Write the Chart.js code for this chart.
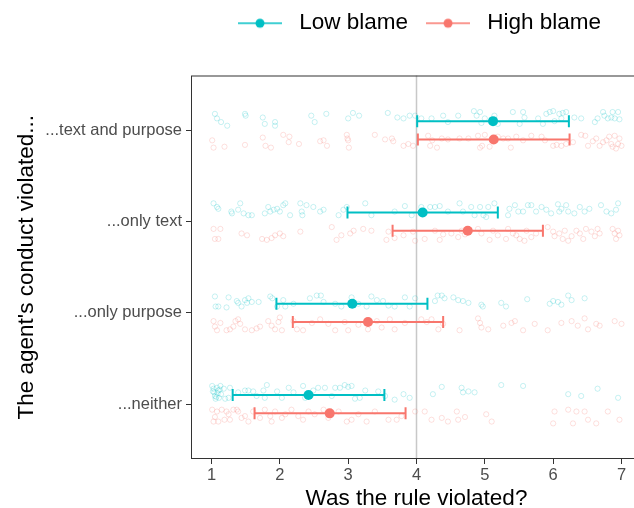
<!DOCTYPE html>
<html>
<head>
<meta charset="utf-8">
<script src="https://cdn.jsdelivr.net/npm/chart.js@4.4.1/dist/chart.umd.min.js"></script>
<style>
  html, body { margin: 0; padding: 0; overflow: hidden; background: #fff; }
  canvas { display: block; }
</style>
</head>
<body>
<canvas id="chart" width="650" height="512"></canvas>
<script>
// categories bottom to top (y value 1..4)
const categories = ['...neither', '...only purpose', '...only text', '...text and purpose'];
const groups = ['Low blame', 'High blame'];
const xTicks = [1, 2, 3, 4, 5, 6, 7];
const refLine = 4;

// group means and interval ends, per category
const lowMean = [2.42, 3.06, 4.09, 5.12];
const lowLo = [1.31, 1.95, 2.99, 4.01];
const lowHi = [3.53, 4.16, 5.19, 6.23];
const highMean = [2.73, 3.29, 4.75, 5.13];
const highLo = [1.63, 2.19, 3.65, 4.02];
const highHi = [3.84, 4.39, 5.85, 6.24];

// raw responses: [rating, vertical jitter]
const lowNeither = [[1.01,.10],[1.02,.04],[1.03,.07],[1.04,.03],[1.05,-.01],[1.06,-.04],[1.07,-.02],[1.08,.08],[1.09,.02],[1.10,.05],[1.11,-.03],[1.12,.06],[1.13,.10],[1.14,.01],[1.18,.07],[1.20,-.04],[1.25,-.03],[1.27,.08],[1.39,.03],[1.49,.05],[1.54,.05],[1.61,.04],[1.66,-.01],[1.76,.05],[1.78,-.03],[1.81,.11],[1.96,.04],[2.03,-.03],[2.13,.08],[2.20,.03],[2.34,.10],[2.37,-.03],[2.49,.05],[2.56,.08],[2.66,.08],[2.76,-.01],[2.81,.08],[2.88,.08],[2.95,.11],[3.00,.09],[3.05,.10],[3.10,-.04],[3.17,-.03],[3.25,.05],[3.44,.04],[3.54,-.01],[3.68,-.05],[3.81,.01],[3.90,-.03],[4.24,.01],[4.37,.09],[4.66,.08],[4.68,.03],[4.76,.04],[4.85,.03],[5.24,.11],[5.56,.10],[6.22,.01],[6.41,-.01],[6.65,.07],[6.95,-.03]];
const lowPurpose = [[1.05,.08],[1.06,-.03],[1.10,-.03],[1.22,-.04],[1.25,.07],[1.37,.03],[1.39,.01],[1.44,-.03],[1.49,.04],[1.52,.01],[1.54,.06],[1.59,.02],[1.69,.02],[1.86,.08],[1.89,.06],[1.96,-.03],[2.05,.04],[2.08,-.03],[2.20,0],[2.44,.06],[2.54,.09],[2.60,.09],[2.64,.02],[2.81,0],[2.90,-.03],[3.05,.07],[3.15,0],[3.27,-.03],[3.34,.08],[3.42,.04],[3.51,.03],[3.59,-.02],[3.68,-.03],[3.83,.07],[3.90,-.03],[3.98,.06],[4.27,.03],[4.31,.09],[4.37,.09],[4.41,.06],[4.54,.07],[4.61,.04],[4.68,.03],[4.76,.01],[4.95,-.01],[4.97,-.03],[5.24,.01],[5.31,-.03],[5.62,.05],[5.95,0],[6.00,.03],[6.07,.02],[6.12,-.01],[6.22,.09],[6.27,.04],[6.46,.06]];
const lowText = [[1.03,.10],[1.08,.06],[1.10,.04],[1.29,.01],[1.30,-.01],[1.39,.03],[1.42,.10],[1.47,-.01],[1.54,-.03],[1.59,-.03],[1.78,-.01],[1.83,.06],[1.86,.01],[1.91,.03],[1.96,.04],[2.00,.01],[2.05,.08],[2.08,.10],[2.15,-.03],[2.30,.10],[2.32,.01],[2.33,-.03],[2.39,.08],[2.49,.06],[2.59,.01],[2.64,.03],[2.86,-.03],[2.93,.03],[2.98,.06],[3.25,.10],[3.34,-.03],[3.68,.01],[3.83,.07],[3.93,-.03],[4.07,.06],[4.20,.06],[4.27,.06],[4.34,.07],[4.46,.01],[4.63,.10],[4.68,.01],[4.80,.06],[4.85,-.03],[4.93,.06],[4.98,-.03],[5.02,-.05],[5.05,.06],[5.14,.10],[5.34,-.03],[5.36,.04],[5.44,.08],[5.49,.01],[5.56,.01],[5.63,.08],[5.68,.08],[5.75,.01],[5.83,.06],[5.90,.03],[5.97,-.01],[6.07,.09],[6.09,.01],[6.12,.04],[6.19,.08],[6.22,.01],[6.31,-.01],[6.39,.06],[6.46,.01],[6.53,.04],[6.70,.08],[6.78,.01],[6.85,-.01],[6.92,.03],[6.95,.10]];
const lowBoth = [[1.05,.08],[1.08,.03],[1.14,-.01],[1.23,-.05],[1.49,.08],[1.50,.06],[1.75,.04],[1.78,-.03],[1.93,-.01],[1.93,-.05],[2.46,.06],[2.51,-.01],[2.68,.08],[3.00,.03],[3.07,.09],[3.16,.06],[3.58,.09],[3.72,.04],[3.81,.03],[3.90,.06],[3.98,.06],[4.07,.03],[4.22,.03],[4.39,.06],[4.46,-.01],[4.61,.06],[4.84,.11],[4.88,.06],[4.93,.10],[4.95,-.02],[5.00,.03],[5.14,.06],[5.19,-.03],[5.41,.10],[5.51,-.03],[5.56,.10],[5.58,.04],[5.78,.03],[5.85,-.03],[5.90,.08],[5.95,.10],[6.00,.11],[6.02,0],[6.09,.08],[6.12,.03],[6.14,.09],[6.19,.10],[6.31,.04],[6.41,.03],[6.61,-.01],[6.65,.03],[6.73,.10],[6.75,.06],[6.80,.03],[6.85,.04],[6.87,.10],[6.90,.03],[6.95,.10],[6.97,.02]];

const highNeither = [[1.01,.04],[1.03,-.09],[1.05,-.04],[1.08,.02],[1.10,-.09],[1.15,.04],[1.19,-.07],[1.22,.02],[1.25,-.01],[1.27,-.07],[1.32,.04],[1.37,.04],[1.39,.02],[1.44,-.05],[1.49,-.03],[1.54,-.09],[1.61,.02],[1.71,-.05],[1.78,.04],[1.86,-.03],[1.88,-.09],[1.93,.02],[2.03,-.05],[2.08,-.01],[2.17,.04],[2.27,-.03],[2.34,-.07],[2.42,.02],[2.51,-.01],[2.64,.04],[2.71,-.05],[2.86,.02],[2.98,-.09],[3.05,-.07],[3.15,-.01],[3.27,-.09],[3.39,.02],[3.59,-.07],[3.71,-.07],[3.78,-.03],[3.98,.02],[4.12,.02],[4.22,-.07],[4.37,-.05],[4.46,-.09],[4.59,.02],[4.61,-.07],[4.71,-.04],[5.02,-.01],[5.10,-.09],[6.02,.02],[6.00,-.11],[6.22,.04],[6.29,-.11],[6.34,.02],[6.46,.02],[6.51,-.07],[6.63,-.11],[6.80,.02],[6.97,-.07]];
const highPurpose = [[1.03,.01],[1.05,-.05],[1.08,-.09],[1.13,-.01],[1.22,-.09],[1.27,-.08],[1.32,-.05],[1.35,.01],[1.39,.03],[1.42,-.02],[1.49,-.08],[1.59,-.09],[1.66,-.07],[1.71,-.05],[1.83,.01],[1.88,-.04],[1.93,-.08],[1.98,0],[2.00,.05],[2.03,-.09],[2.20,.01],[2.25,-.08],[2.34,-.09],[2.47,-.01],[2.59,.03],[2.71,-.02],[2.81,-.09],[2.95,0],[3.00,-.09],[3.15,-.03],[3.29,-.08],[3.42,.01],[3.49,-.06],[3.61,.03],[3.68,-.08],[3.83,-.01],[4.07,.03],[4.15,0],[4.22,.03],[4.32,-.08],[4.39,-.02],[4.63,-.09],[4.90,.04],[4.93,-.01],[4.95,-.06],[5.05,-.08],[5.27,-.04],[5.39,-.01],[5.44,.01],[5.56,-.09],[5.73,-.02],[5.92,-.09],[6.12,-.01],[6.27,.01],[6.36,-.04],[6.46,.04],[6.51,-.08],[6.63,-.02],[6.68,-.04],[6.90,.01],[7.00,-.02]];
const highText = [[1.03,.02],[1.05,-.09],[1.13,.02],[1.10,-.09],[1.44,-.03],[1.52,-.05],[1.74,-.09],[1.81,-.10],[1.88,-.08],[1.93,-.05],[2.00,-.03],[2.05,-.06],[2.30,-.01],[2.76,.04],[2.83,-.10],[2.90,-.05],[3.03,-.03],[3.08,0],[3.22,.02],[3.34,0],[3.56,-.10],[3.59,-.01],[3.68,-.08],[3.81,-.05],[3.95,-.01],[3.98,-.11],[4.12,-.09],[4.27,0],[4.34,-.10],[4.39,-.04],[4.51,-.03],[4.61,-.07],[4.66,0],[4.71,-.04],[4.90,.02],[4.95,-.03],[5.07,-.10],[5.12,0],[5.19,-.05],[5.31,-.09],[5.34,.02],[5.41,-.03],[5.46,-.05],[5.51,-.09],[5.58,-.11],[5.61,0],[5.68,-.07],[5.75,-.03],[5.92,.04],[6.00,-.01],[6.02,-.06],[6.09,-.03],[6.14,-.09],[6.17,0],[6.22,-.11],[6.27,-.06],[6.34,0],[6.39,-.03],[6.44,-.09],[6.48,.02],[6.56,-.01],[6.61,-.06],[6.65,.02],[6.68,-.03],[6.87,.02],[6.90,-.03],[6.92,-.09],[6.95,0],[6.97,-.05]];
const highBoth = [[1.01,-.01],[1.03,-.09],[1.19,-.08],[1.49,-.06],[1.75,.02],[1.79,-.07],[1.87,-.09],[2.05,.05],[2.14,.03],[2.13,-.03],[2.28,-.05],[2.59,-.02],[2.64,-.01],[2.69,-.07],[2.98,.05],[2.99,.01],[3.00,-.01],[3.01,-.09],[3.39,.05],[3.54,0],[3.64,.01],[3.66,-.02],[3.81,-.07],[3.88,-.05],[3.95,-.07],[4.17,.04],[4.20,-.07],[4.23,-.01],[4.30,-.09],[4.37,.01],[4.46,0],[4.63,.01],[4.76,.01],[4.90,.04],[4.93,-.09],[4.96,-.07],[5.00,.05],[5.07,-.08],[5.19,.03],[5.27,.01],[5.34,.01],[5.38,-.09],[5.46,.03],[5.56,-.01],[5.68,.04],[5.83,.03],[5.88,-.01],[6.00,-.07],[6.05,-.06],[6.12,-.07],[6.19,-.05],[6.29,-.03],[6.41,.05],[6.47,.04],[6.51,-.07],[6.58,-.02],[6.63,.01],[6.68,-.07],[6.73,-.03],[6.78,-.01],[6.82,.03],[6.85,-.05],[6.87,-.08],[6.90,.04],[6.92,-.10],[6.95,-.05],[6.97,.01],[7.00,-.07]];

const means = [lowMean, highMean];
const los = [lowLo, highLo];
const his = [lowHi, highHi];
const jitter = [[lowNeither, lowPurpose, lowText, lowBoth], [highNeither, highPurpose, highText, highBoth]];
const colors = ['#00BFC4', '#F8766D'];
const faint = ['rgba(0,191,196,0.25)', 'rgba(248,118,109,0.25)'];
const dodge = [0.1, -0.1];

const FONT = '"Liberation Sans", Arial, Helvetica, sans-serif';
Chart.defaults.font.family = FONT;

function legendIcon(color) {
  const c = document.createElement('canvas');
  c.width = 44; c.height = 12;
  const g = c.getContext('2d');
  g.strokeStyle = color; g.lineWidth = 1.5;
  g.beginPath(); g.moveTo(0, 6); g.lineTo(44, 6); g.stroke();
  g.fillStyle = color;
  g.beginPath(); g.arc(22, 6, 4.5, 0, Math.PI * 2); g.fill();
  return c;
}

const datasets = [];
groups.forEach((name, g) => {
  datasets.push({
    label: name, order: 0,
    data: means[g].map((m, c) => ({ x: m, y: c + 1 + dodge[g] })),
    pointRadius: 5, pointBackgroundColor: colors[g], pointBorderWidth: 0
  });
  means[g].forEach((m, c) => {
    const y = c + 1 + dodge[g];
    datasets.push({
      label: name + ' interval', order: 1, showLine: true,
      data: [{ x: los[g][c], y }, { x: his[g][c], y }],
      borderColor: colors[g], borderWidth: 2,
      pointStyle: 'line', pointRotation: 90, pointRadius: 6,
      pointBorderColor: colors[g], pointBorderWidth: 2
    });
  });
  datasets.push({
    label: name + ' responses', order: 2,
    data: jitter[g].flatMap((pts, c) => pts.map(([x, j]) => ({ x, y: c + 1 + dodge[g] + j }))),
    pointRadius: 2.6, pointBorderWidth: 0.9,
    pointBorderColor: faint[g], pointBackgroundColor: 'rgba(255,255,255,0)'
  });
});

const framePlugin = {
  id: 'frame',
  beforeDatasetsDraw(chart) {
    const { ctx, chartArea: a, scales: { x } } = chart;
    ctx.save();
    const px = x.getPixelForValue(refLine);
    ctx.strokeStyle = '#c8c8c8';
    ctx.lineWidth = 1.5;
    ctx.beginPath(); ctx.moveTo(px, a.top); ctx.lineTo(px, a.bottom); ctx.stroke();
    ctx.strokeStyle = '#333';
    ctx.lineWidth = 1;
    ctx.strokeRect(a.left + 0.5, a.top + 0.5, a.right - a.left - 1, a.bottom - a.top - 1);
    ctx.restore();
  }
};

new Chart(document.getElementById('chart'), {
  type: 'scatter',
  data: { datasets },
  plugins: [framePlugin],
  options: {
    responsive: false,
    animation: false,
    layout: { padding: { left: 0, right: 7.5, top: 0, bottom: 0 } },
    plugins: {
      tooltip: { enabled: false },
      legend: {
        position: 'top',
        fullSize: false,
        labels: {
          usePointStyle: true,
          pointStyleWidth: 56,
          padding: 12,
          color: '#000',
          font: { size: 22.5 },
          generateLabels: () => groups.map((name, g) => ({
            text: name, pointStyle: legendIcon(colors[g]),
            fillStyle: colors[g], strokeStyle: colors[g], lineWidth: 0,
            hidden: false, datasetIndex: g
          }))
        },
        onClick: () => {}
      }
    },
    scales: {
      x: {
        type: 'linear', position: 'bottom', min: 0.7, max: 7.3,
        afterBuildTicks: s => { s.ticks = xTicks.map(v => ({ value: v })); },
        afterFit: s => { s.height = 53; },
        grid: { drawOnChartArea: false, tickLength: 5, tickColor: '#333', color: '#333' },
        border: { display: false },
        ticks: { color: '#4d4d4d', font: { size: 16.5 }, padding: 2, maxRotation: 0, autoSkip: false },
        title: { display: true, text: 'Was the rule violated?', color: '#000', font: { size: 22.5 }, padding: { top: 0, bottom: 0 } }
      },
      xTop: {
        type: 'linear', position: 'top', display: true,
        grid: { display: false }, border: { display: false }, ticks: { display: false },
        afterFit: s => { s.height = 31; }
      },
      y: {
        type: 'linear', min: 0.4, max: 4.6,
        afterBuildTicks: s => { s.ticks = categories.map((c, i) => ({ value: i + 1 })); },
        afterFit: s => { s.width = 191; },
        grid: { drawOnChartArea: false, tickLength: 5, tickColor: '#333', color: '#333' },
        border: { display: false },
        ticks: { color: '#4d4d4d', font: { size: 16.5 }, padding: 4, callback: v => categories[v - 1] },
        title: { display: true, text: "The agent's conduct violated...", color: '#000', font: { size: 22.5 }, padding: { top: 13, bottom: 0 } }
      }
    }
  }
});
</script>
</body>
</html>
